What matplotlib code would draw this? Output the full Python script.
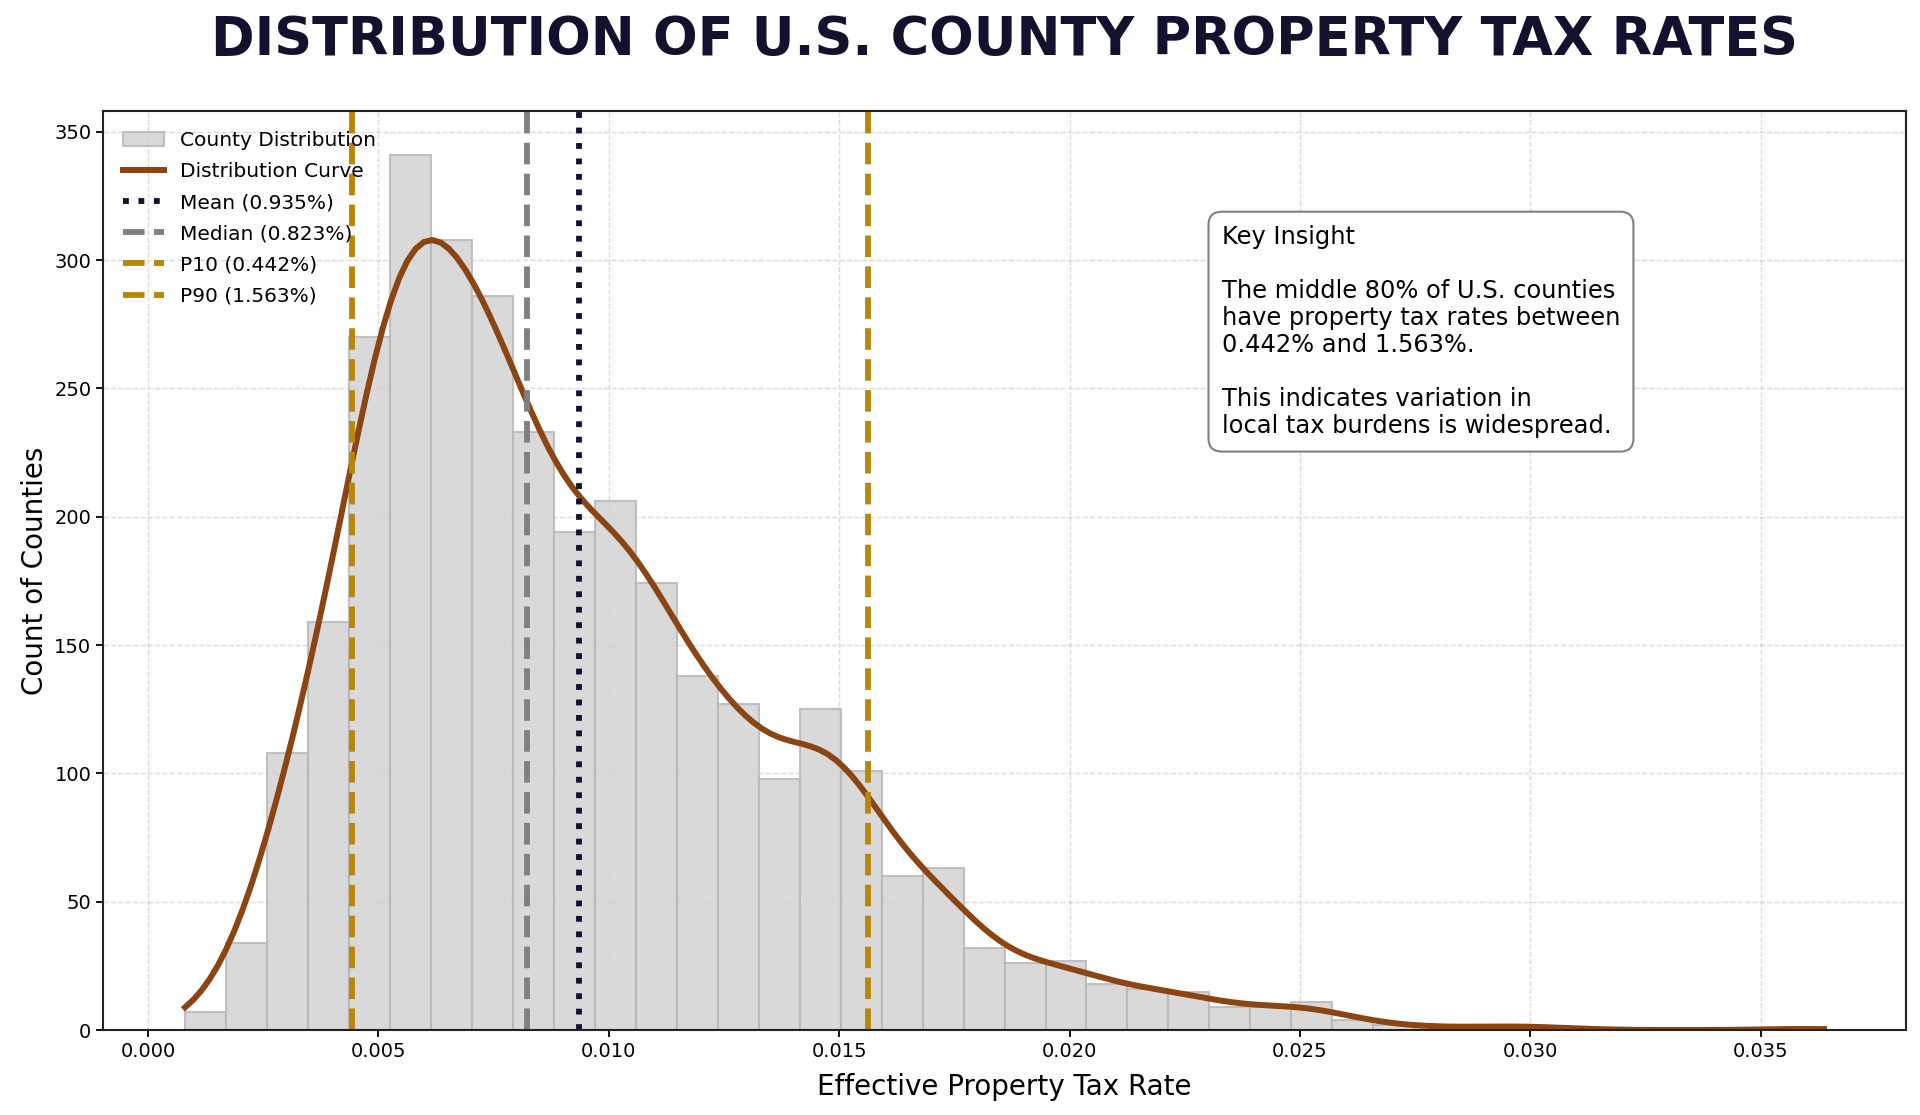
import numpy as np
import matplotlib
matplotlib.use('Agg')
import matplotlib.pyplot as plt
from matplotlib.patches import Patch
from matplotlib.lines import Line2D

# histogram of county effective property tax rates (40 bins)
rate_min = 0.000806
rate_max = 0.036371
county_counts = [7, 34, 108, 159, 270, 341, 308, 286, 233, 194,
                 206, 174, 138, 127, 98, 125, 101, 60, 63, 32,
                 26, 27, 18, 16, 15, 9, 9, 11, 4, 2,
                 1, 1, 2, 1, 0, 0, 0, 0, 0, 1]

# summary stats
mean_rate = 0.00935
median_rate = 0.00823
p10_rate = 0.00442
p90_rate = 0.01563

title_color = '#12122E'
curve_color = '#8B4513'
gold = '#B8860B'
bar_edge = '#b8b8b8'

counts = np.array(county_counts, dtype=float)
edges = np.linspace(rate_min, rate_max, len(counts) + 1)
centers = (edges[:-1] + edges[1:]) / 2
bin_w = edges[1] - edges[0]

# gaussian kde over the binned data, scaled to counts (scott's rule)
n = counts.sum()
mu = np.sum(counts * centers) / n
sd = np.sqrt(np.sum(counts * (centers - mu) ** 2) / (n - 1))
bw = 0.95 * sd * n ** (-1 / 5)
grid = np.linspace(rate_min, rate_max, 200)
z = (grid[:, None] - centers[None, :]) / bw
kde = (counts[None, :] * np.exp(-0.5 * z ** 2)).sum(axis=1) / (bw * np.sqrt(2 * np.pi)) * bin_w

fig, ax = plt.subplots(figsize=(19.2, 11.15), dpi=100)
fig.subplots_adjust(left=0.0537, right=0.9927, bottom=0.0762, top=0.9004)

ax.set_axisbelow(True)
ax.grid(True, linestyle='--', color='#cccccc', alpha=0.7, linewidth=1)

ax.hist(centers, bins=edges, weights=counts, color='lightgray',
        edgecolor=bar_edge, linewidth=1.5, alpha=0.85)
ax.plot(grid, kde, color=curve_color, linewidth=4.3)

ax.axvline(mean_rate, color=title_color, linestyle=':', linewidth=4.2)
ax.axvline(median_rate, color='gray', linestyle='--', linewidth=4.2)
ax.axvline(p10_rate, color=gold, linestyle='--', linewidth=4.2)
ax.axvline(p90_rate, color=gold, linestyle='--', linewidth=4.2)

handles = [
    Patch(facecolor='lightgray', edgecolor=bar_edge, linewidth=1.5, alpha=0.85),
    Line2D([], [], color=curve_color, linewidth=4.3),
    Line2D([], [], color=title_color, linestyle=':', linewidth=4.2),
    Line2D([], [], color='gray', linestyle='--', linewidth=4.2),
    Line2D([], [], color=gold, linestyle='--', linewidth=4.2),
    Line2D([], [], color=gold, linestyle='--', linewidth=4.2),
]
labels = ['County Distribution', 'Distribution Curve',
          f'Mean ({mean_rate * 100:.3f}%)', f'Median ({median_rate * 100:.3f}%)',
          f'P10 ({p10_rate * 100:.3f}%)', f'P90 ({p90_rate * 100:.3f}%)']
ax.legend(handles, labels, loc='upper left', fontsize=14.5, frameon=False,
          labelspacing=0.6, borderaxespad=0.6)

insight = ("Key Insight\n\n"
           "The middle 80% of U.S. counties\n"
           f"have property tax rates between\n{p10_rate * 100:.3f}% and {p90_rate * 100:.3f}%.\n\n"
           "This indicates variation in\nlocal tax burdens is widespread.")
ax.text(0.6205, 0.876, insight, transform=ax.transAxes, fontsize=17.4,
        ha='left', va='top', linespacing=1.16,
        bbox=dict(boxstyle='round,pad=0.55', facecolor='white',
                  edgecolor='gray', linewidth=1.5))

ax.set_title('DISTRIBUTION OF U.S. COUNTY PROPERTY TAX RATES', fontsize=37.8,
             fontweight='bold', color=title_color, pad=40)
ax.set_xlabel('Effective Property Tax Rate', fontsize=20, labelpad=9)
ax.set_ylabel('Count of Counties', fontsize=20)
ax.tick_params(labelsize=14, width=1.3, length=5)
for s in ax.spines.values():
    s.set_linewidth(1.5)
    s.set_color('#222222')

plt.savefig('out.png', dpi=100)
